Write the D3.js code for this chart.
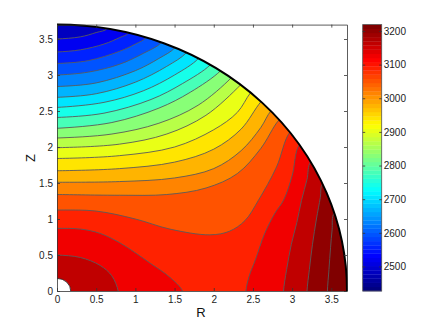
<!DOCTYPE html>
<html>
<head>
<meta charset="utf-8">
<script src="https://d3js.org/d3.v7.min.js"></script>
<style>
  body { margin: 0; background: #fff; }
  text { font-family: "Liberation Sans", Arial, sans-serif; }
</style>
</head>
<body>
<script>
// axis limits and ticks
const rLim = [0, 3.7], zLim = [0, 3.7];
const holeR = 0.175;
const cLim = [2427, 3219];
const rTicks = [0, 0.5, 1, 1.5, 2, 2.5, 3, 3.5];
const zTicks = [0, 0.5, 1, 1.5, 2, 2.5, 3, 3.5];
const cTicks = [2500, 2600, 2700, 2800, 2900, 3000, 3100, 3200];

// contour levels (lowest first)
const levels = [2484, 2521, 2559, 2597, 2635, 2672, 2710, 2748, 2785, 2823,
                2861, 2899, 2936, 2974, 3012, 3050, 3087, 3125, 3163, 3200];

// contour lines, [R, Z]
const contours = [
  {lev: 0,  pts: [[0,3.50],[0.3,3.53],[0.5,3.59],[0.64,3.645]]},
  {lev: 1,  pts: [[0,3.32],[0.3,3.35],[0.6,3.43],[0.8,3.52],[0.914,3.585]]},
  {lev: 2,  pts: [[0,3.16],[0.4,3.20],[0.8,3.33],[1.0,3.43],[1.137,3.521]]},
  {lev: 3,  pts: [[0,3.00],[0.4,3.04],[0.8,3.15],[1.1,3.30],[1.332,3.452]]},
  {lev: 4,  pts: [[0,2.84],[0.5,2.89],[1.0,3.06],[1.3,3.23],[1.505,3.38]]},
  {lev: 5,  pts: [[0,2.69],[0.5,2.74],[1.0,2.90],[1.4,3.12],[1.651,3.311]]},
  {lev: 6,  pts: [[0,2.55],[0.6,2.62],[1.1,2.78],[1.5,3.00],[1.805,3.23]]},
  {lev: 7,  pts: [[0,2.41],[0.6,2.47],[1.2,2.66],[1.6,2.88],[1.955,3.141]]},
  {lev: 8,  pts: [[0,2.26],[0.7,2.34],[1.3,2.54],[1.7,2.76],[2.085,3.057]]},
  {lev: 9,  pts: [[0,2.125],[0.7,2.18],[1.3,2.33],[1.8,2.58],[2.221,2.959]]},
  {lev: 10, pts: [[0,1.99],[0.8,2.04],[1.4,2.18],[1.9,2.44],[2.343,2.864]]},
  {lev: 11, pts: [[0,1.84],[0.8,1.88],[1.5,2.00],[2.0,2.24],[2.3,2.48],[2.47,2.755]]},
  {lev: 12, pts: [[0,1.67],[0.8,1.70],[1.5,1.79],[2.0,1.97],[2.35,2.25],[2.603,2.63]]},
  {lev: 13, pts: [[0,1.51],[0.8,1.52],[1.5,1.57],[2.0,1.70],[2.35,1.95],[2.6,2.27],[2.728,2.50]]},
  {lev: 14, pts: [[0,1.34],[0.8,1.33],[1.4,1.34],[1.9,1.43],[2.3,1.63],[2.6,1.98],[2.834,2.378]]},
  {lev: 15, pts: [[0,1.125],[0.5,1.11],[1.0,1.0],[1.44,0.86],[1.95,0.78],[2.2,0.83],[2.4,0.98],[2.57,1.26],[2.8,1.72],[2.971,2.206]]},
  {lev: 16, pts: [[0,0.87],[0.3,0.86],[0.55,0.80],[0.8,0.67],[1.0,0.53],[1.19,0.385],[1.44,0.19],[1.6,0]]},
  {lev: 16, pts: [[2.41,0],[2.45,0.2],[2.53,0.43],[2.65,0.8],[2.78,1.08],[2.89,1.26],[3.0,1.6],[3.092,2.031]]},
  {lev: 17, pts: [[0,0.5],[0.3,0.465],[0.55,0.355],[0.7,0.21],[0.78,0]]},
  {lev: 17, pts: [[2.89,0],[2.93,0.3],[2.99,0.65],[3.06,0.95],[3.12,1.26],[3.19,1.55],[3.236,1.794]]},
  {lev: 18, pts: [[3.19,0],[3.22,0.3],[3.26,0.65],[3.31,1.0],[3.36,1.3],[3.388,1.487]]},
  {lev: 19, pts: [[3.45,0],[3.47,0.3],[3.49,0.6],[3.51,0.85],[3.538,1.082]]}
];

const width = 436, height = 328;
const svg = d3.select("body").append("svg")
    .attr("width", width).attr("height", height);

const x = d3.scaleLinear().domain(rLim).range([57, 347]);
const y = d3.scaleLinear().domain(zLim).range([291, 24.6]);
const cy = d3.scaleLinear().domain(cLim).range([291, 24.6]);

// matlab jet, 64 colours
function jet(t) {
  const c = v => Math.max(0, Math.min(1, v));
  return d3.rgb(255 * c(1.5 - Math.abs(4 * t - 3)),
                255 * c(1.5 - Math.abs(4 * t - 2)),
                255 * c(1.5 - Math.abs(4 * t - 1))).formatHex();
}
const jet64 = d3.range(64).map(i => jet(i / 63));
const colorOf = v => {
  const t = (v - cLim[0]) / (cLim[1] - cLim[0]);
  return jet64[Math.max(0, Math.min(63, Math.floor(t * 64)))];
};
// band k sits below levels[k]; the top band goes up to the max
const bandColor = k => colorOf(k < levels.length ? levels[k] : cLim[1]);

const rx = x(rLim[1]) - x(0), ry = y(0) - y(zLim[1]);
const diskPath = `M${x(0)},${y(0)}L${x(rLim[1])},${y(0)}A${rx},${ry} 0 0 0 ${x(0)},${y(zLim[1])}Z`;

svg.append("clipPath").attr("id", "disk")
  .append("path").attr("d", diskPath);

const plot = svg.append("g").attr("clip-path", "url(#disk)");

plot.append("path").attr("d", diskPath).attr("fill", bandColor(0));

const line = d3.line()
    .x(d => x(d[0])).y(d => y(d[1]))
    .curve(d3.curveCatmullRom.alpha(0.5));

// push the ends a bit past the boundary, the clip trims them
function extend(pts) {
  const a = pts[0], b = pts[pts.length - 1];
  const pre = a[0] === 0 ? [-0.15, a[1]] : [a[0], -0.15];
  const post = b[1] === 0 ? [b[0], -0.15] : [b[0] * 1.06, b[1] * 1.06];
  return [pre, ...pts, post];
}

function regionPath(pts) {
  const e = extend(pts);
  const a = pts[0], b = pts[pts.length - 1], post = e[e.length - 1];
  let d = line(e);
  if (b[1] === 0) {
    d += `L${x(-0.5)},${y(-0.5)}Z`;
  } else {
    d += `L${x(6)},${y(post[1])}L${x(6)},${y(-0.5)}`;
    if (a[0] === 0) d += `L${x(-0.5)},${y(-0.5)}`;
    d += "Z";
  }
  return d;
}

plot.selectAll("path.band")
  .data(contours)
  .join("path")
    .attr("class", "band")
    .attr("d", d => regionPath(d.pts))
    .attr("fill", d => bandColor(d.lev + 1));

plot.selectAll("path.cline")
  .data(contours)
  .join("path")
    .attr("class", "cline")
    .attr("d", d => line(extend(d.pts)))
    .attr("fill", "none")
    .attr("stroke", "#5a5a5a")
    .attr("stroke-width", 0.9);

// hole at the origin
const hx = x(holeR) - x(0), hy = y(0) - y(holeR);
svg.append("path")
  .attr("d", `M${x(0)},${y(0)}L${x(holeR)},${y(0)}A${hx},${hy} 0 0 0 ${x(0)},${y(holeR)}Z`)
  .attr("fill", "#fff");
svg.append("path")
  .attr("d", `M${x(holeR)},${y(0)}A${hx},${hy} 0 0 0 ${x(0)},${y(holeR)}`)
  .attr("fill", "none").attr("stroke", "#222").attr("stroke-width", 0.8);

// outer boundary
svg.append("path")
  .attr("d", `M${x(rLim[1])},${y(0)}A${rx},${ry} 0 0 0 ${x(0)},${y(zLim[1])}`)
  .attr("fill", "none").attr("stroke", "#000").attr("stroke-width", 2);

// axes, matlab style box with inward ticks
const fmt = d3.format("~g");
function styleAxis(g) {
  g.selectAll(".domain").attr("stroke", "#333").attr("stroke-width", 0.8);
  g.selectAll(".tick line").attr("stroke", "#333").attr("stroke-width", 0.8);
  g.selectAll(".tick text").attr("fill", "#222")
    .style("font-family", '"Liberation Sans", Arial, sans-serif').style("font-size", "10px");
}
svg.append("g").attr("transform", `translate(0,${y(0)})`)
  .call(d3.axisBottom(x).tickValues(rTicks).tickFormat(fmt).tickSize(-3).tickSizeOuter(0).tickPadding(5))
  .call(styleAxis);
svg.append("g").attr("transform", `translate(0,${y(zLim[1])})`)
  .call(d3.axisTop(x).tickValues(rTicks).tickFormat("").tickSize(-3).tickSizeOuter(0))
  .call(styleAxis);
svg.append("g").attr("transform", `translate(${x(0)},0)`)
  .call(d3.axisLeft(y).tickValues(zTicks).tickFormat(fmt).tickSize(-3).tickSizeOuter(0).tickPadding(4))
  .call(styleAxis);
svg.append("g").attr("transform", `translate(${x(rLim[1])},0)`)
  .call(d3.axisRight(y).tickValues(zTicks).tickFormat("").tickSize(-3).tickSizeOuter(0))
  .call(styleAxis);

svg.append("text").attr("x", 201).attr("y", 317)
  .attr("text-anchor", "middle").attr("font-size", 13).attr("fill", "#111").text("R");
svg.append("text").attr("transform", "translate(35,158) rotate(-90)")
  .attr("text-anchor", "middle").attr("font-size", 13).attr("fill", "#111").text("Z");

// colorbar
const cbX = 362.7, cbW = 19;
const cb = svg.append("g");
cb.selectAll("rect")
  .data(d3.range(64))
  .join("rect")
    .attr("x", cbX)
    .attr("y", i => cy(cLim[0] + (i + 1) * (cLim[1] - cLim[0]) / 64))
    .attr("width", cbW)
    .attr("height", i => cy(cLim[0] + i * (cLim[1] - cLim[0]) / 64) - cy(cLim[0] + (i + 1) * (cLim[1] - cLim[0]) / 64) + 0.3)
    .attr("fill", i => jet64[i]);
cb.append("rect")
  .attr("x", cbX).attr("y", cy(cLim[1]))
  .attr("width", cbW).attr("height", cy(cLim[0]) - cy(cLim[1]))
  .attr("fill", "none").attr("stroke", "#555").attr("stroke-width", 0.8);
svg.append("g").attr("transform", `translate(${cbX + cbW},0)`)
  .call(d3.axisRight(cy).tickValues(cTicks).tickFormat(d3.format("d")).tickSize(-2.5).tickSizeOuter(0).tickPadding(2))
  .call(styleAxis)
  .call(g => g.select(".domain").remove());
svg.append("g").attr("transform", `translate(${cbX},0)`)
  .call(d3.axisLeft(cy).tickValues(cTicks).tickFormat("").tickSize(-2.5).tickSizeOuter(0))
  .call(styleAxis)
  .call(g => g.select(".domain").remove());
</script>
</body>
</html>
